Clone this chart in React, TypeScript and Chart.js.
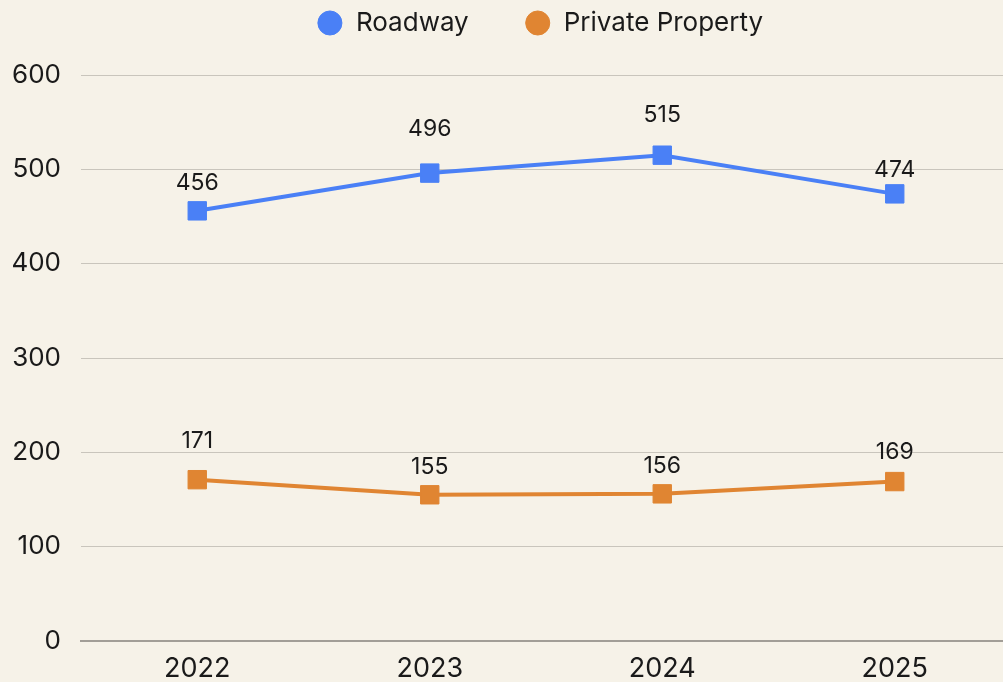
import React, { useEffect, useRef } from 'react';
import { Chart, registerables } from 'chart.js';

Chart.register(...registerables);

const categories = ['2022', '2023', '2024', '2025'];
const roadwayValues = [456, 496, 515, 474];
const privatePropertyValues = [171, 155, 156, 169];
const seriesNames = ['Roadway', 'Private Property'];
const yTickValues = [0, 100, 200, 300, 400, 500, 600];

const FONT = 'Inter';
const BLUE = '#4a80f6';
const ORANGE = '#e08532';
const BG = '#f6f2e8';
const TEXT = '#1a1a1a';

// vertical distance (px) from point centre to label centre, per series / point
const labelOffsets = [
  [28, 44, 40, 24],
  [39, 28, 28, 29],
];

const backgroundPlugin = {
  id: 'bgFill',
  beforeDraw(chart: any) {
    const { ctx, width, height } = chart;
    ctx.save();
    ctx.fillStyle = BG;
    ctx.fillRect(0, 0, width, height);
    ctx.restore();
  },
};

const valueLabelPlugin = {
  id: 'valueLabels',
  afterDatasetsDraw(chart: any) {
    const ctx = chart.ctx;
    ctx.save();
    ctx.font = `23px ${FONT}`;
    ctx.fillStyle = TEXT;
    ctx.textAlign = 'center';
    ctx.textBaseline = 'middle';
    chart.data.datasets.forEach((ds: any, di: number) => {
      const meta = chart.getDatasetMeta(di);
      meta.data.forEach((pt: any, i: number) => {
        ctx.fillText(String(ds.data[i]), pt.x, pt.y - labelOffsets[di][i]);
      });
    });
    ctx.restore();
  },
};

export default function App() {
  const canvasRef = useRef<HTMLCanvasElement | null>(null);

  useEffect(() => {
    document.body.style.margin = '0';
    document.body.style.background = BG;
    const canvas = canvasRef.current;
    if (!canvas) return;
    const chart = new Chart(canvas, {
      type: 'line',
      data: {
        labels: categories,
        datasets: [
          {
            label: seriesNames[0],
            data: roadwayValues,
            borderColor: BLUE,
            backgroundColor: BLUE,
            borderWidth: 4,
            pointStyle: 'rect',
            pointRadius: 13,
            pointHoverRadius: 13,
            pointBorderWidth: 1,
            pointBackgroundColor: BLUE,
            pointBorderColor: BLUE,
            tension: 0,
            fill: false,
          },
          {
            label: seriesNames[1],
            data: privatePropertyValues,
            borderColor: ORANGE,
            backgroundColor: ORANGE,
            borderWidth: 4,
            pointStyle: 'rect',
            pointRadius: 13,
            pointHoverRadius: 13,
            pointBorderWidth: 1,
            pointBackgroundColor: ORANGE,
            pointBorderColor: ORANGE,
            tension: 0,
            fill: false,
          },
        ],
      },
      options: {
        animation: false,
        responsive: false,
        devicePixelRatio: 1,
        layout: { padding: { top: -46, left: 0, right: -55, bottom: 0 } },
        plugins: {
          legend: {
            display: true,
            position: 'top',
            labels: {
              usePointStyle: true,
              pointStyle: 'circle',
              boxWidth: 26,
              boxHeight: 17,
              padding: 56,
              color: TEXT,
              font: { family: FONT, size: 26 },
            },
          },
          subtitle: {
            display: true,
            text: ' ',
            weight: 500,
            font: { size: 10, lineHeight: 1 },
            padding: { top: 0, bottom: 19 },
          } as any,
          tooltip: { enabled: false },
        },
        scales: {
          x: {
            offset: true,
            grid: { display: false, drawTicks: false },
            border: { display: true, color: '#a29e97', width: 2 },
            ticks: {
              color: TEXT,
              padding: 12,
              font: { family: FONT, size: 27 },
            },
            afterFit: (s: any) => {
              s.height = 41;
              s.paddingLeft = 0;
              s.paddingRight = 0;
            },
          },
          y: {
            min: 0,
            max: 600,
            grid: { color: '#c9c5bc', lineWidth: 1, drawTicks: false },
            border: { display: false },
            ticks: {
              color: TEXT,
              padding: 20,
              font: { family: FONT, size: 26 },
            },
            afterBuildTicks: (s: any) => {
              s.ticks = yTickValues.map((v) => ({ value: v }));
            },
            afterFit: (s: any) => {
              s.width = 81;
            },
          },
        },
      },
      plugins: [backgroundPlugin, valueLabelPlugin],
    });
    return () => chart.destroy();
  }, []);

  return (
    <div style={{ width: '1003px', height: '682px', overflow: 'hidden', background: BG }}>
      <canvas ref={canvasRef} width={1025} height={682} style={{ display: 'block', width: '1025px', height: '682px' }} />
    </div>
  );
}
